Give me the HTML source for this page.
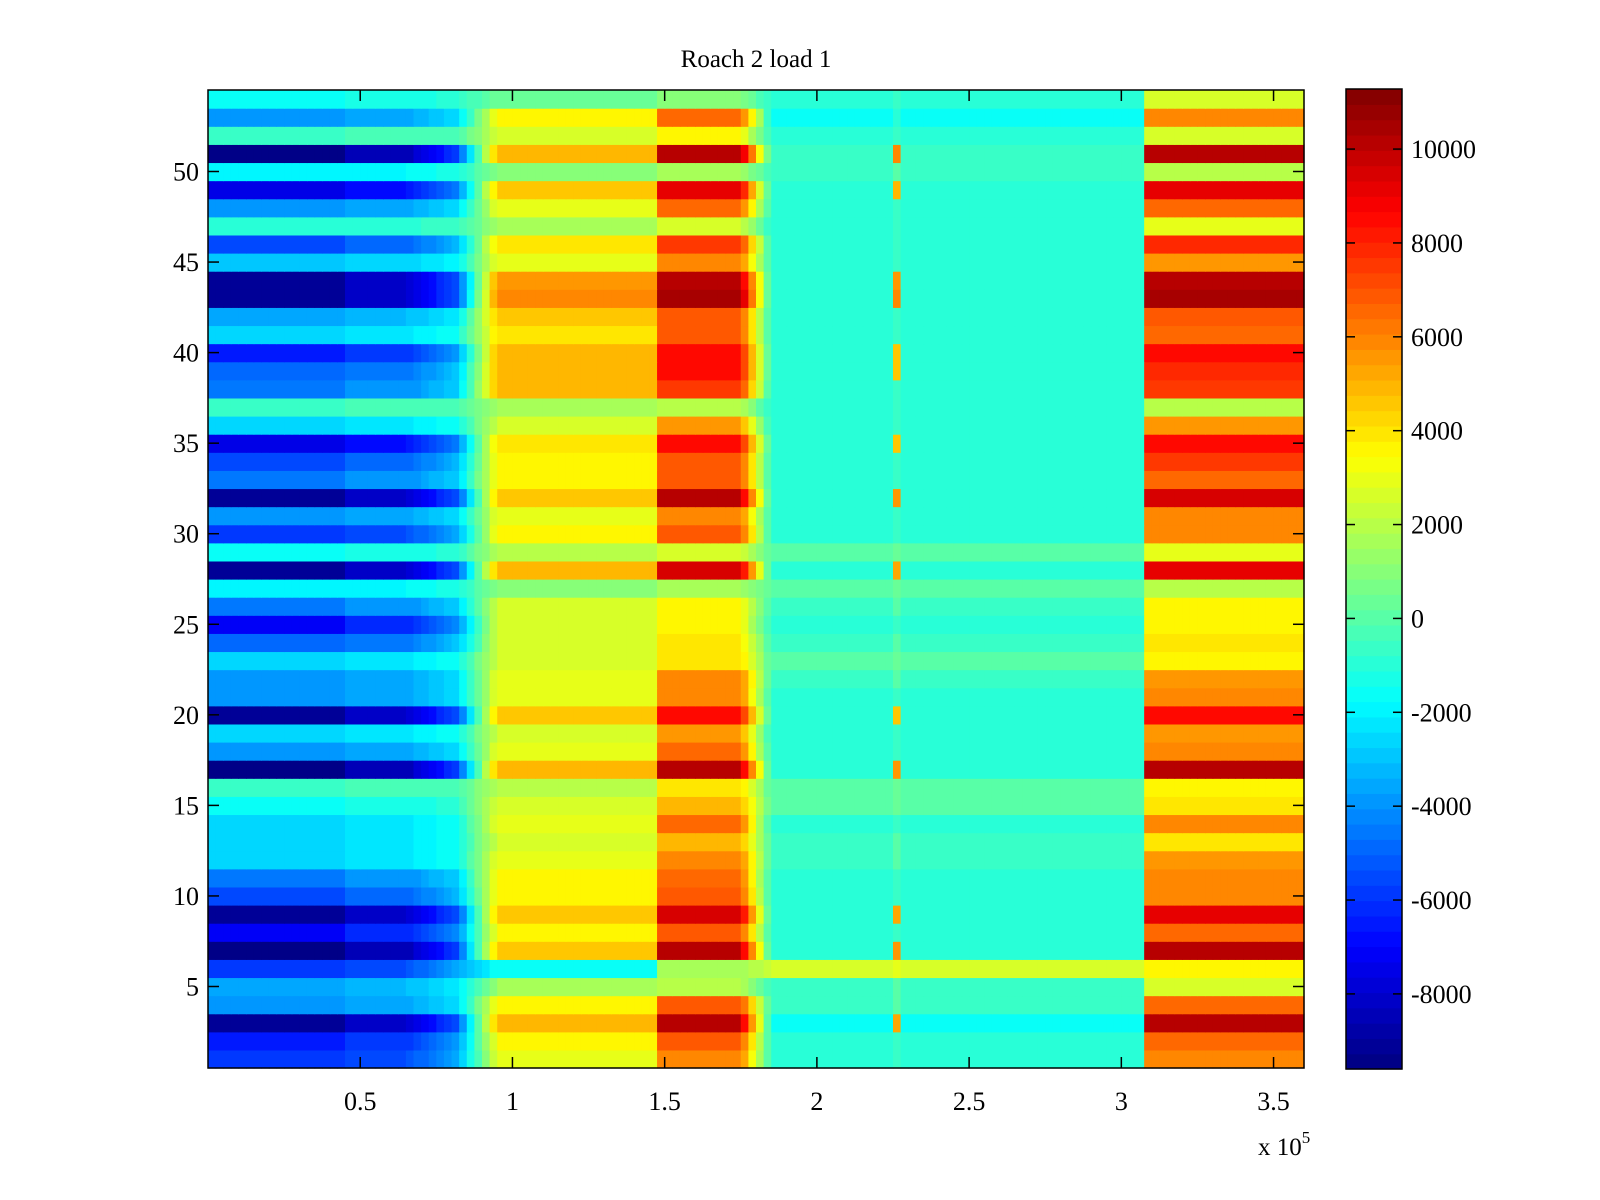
<!DOCTYPE html>
<html><head><meta charset="utf-8"><style>
body{margin:0;background:#fff}
svg{display:block}
text{font-family:"Liberation Serif",serif;fill:#000}
</style></head><body>
<svg id="fig" width="1600" height="1200" xmlns="http://www.w3.org/2000/svg">
<rect width="1600" height="1200" fill="#fff"/>
<text x="756" y="67" font-size="25" text-anchor="middle">Roach 2 load 1</text>
<g id="heat"></g>
<g id="axes"></g>
<g id="cbar"></g>
<text x="1258" y="1155" font-size="25">x 10<tspan dy="-12" font-size="17">5</tspan></text>
</svg>
<script>
// per-row values (rows 1..54), by x-segment
const leftVals=[-6000,-6500,-9000,-4000,-3500,-6000,-9500,-7000,-9000,-5500,-4500,-2500,-2500,-2500,-1500,-500,-9500,-4000,-2500,-9000,-4000,-4000,-2500,-5000,-7000,-4500,-2000,-9000,-1500,-6000,-4000,-9000,-4500,-5500,-7500,-2500,-500,-4500,-5000,-6500,-2500,-3500,-9000,-9000,-3000,-5500,-1000,-4000,-7500,-2000,-9500,-500,-4000,-1500];
const midVals=[3000,3500,5000,3500,1500,-1500,4500,3500,4500,3500,3500,3000,2500,3000,2500,2000,5000,3000,2500,4500,3000,3000,2500,2500,2500,2500,1000,5000,2000,3500,3000,4500,3500,3500,4000,2500,1500,5000,5000,5000,4000,4500,6000,5500,3000,4000,1500,3000,4500,1000,5000,2500,3500,500];
const peakVals=[6000,7000,10000,7000,2000,1500,10000,7000,9500,7000,6500,6000,5000,6500,5000,4000,10000,6500,5500,8500,6000,6000,4000,4000,3500,3500,1500,9500,2500,7000,6000,10000,7000,7000,8500,5500,2000,7500,8500,8500,7000,7000,10500,10000,6000,7500,2500,6500,9000,1500,10000,3500,6500,1000];
const centerVals=[-1000,-1000,-1500,-500,-500,2500,-1000,-1000,-1000,-1000,-1000,-500,-500,-1000,0,0,-1000,-1000,-1000,-1000,-1000,-500,0,-500,-1000,-500,0,-1000,0,-1000,-1000,-1000,-1000,-1000,-1000,-1000,-1000,-1000,-1000,-1000,-1000,-1000,-1000,-1000,-1000,-1000,-1000,-1000,-1000,-500,-500,-1000,-1500,-1000];
const rightVals=[6000,6500,10000,6500,2500,3500,10000,6500,9000,6000,6000,5500,4000,6000,4000,3500,10000,6000,5500,8500,6000,5500,3500,4000,3500,3500,2000,9000,3000,6000,6000,9500,6500,7500,8500,5500,2000,7500,8000,8500,6500,7000,10500,10000,5500,8000,3000,6500,9000,2000,10000,2500,6000,2500];
const xTicks=[0.5,1,1.5,2,2.5,3,3.5];
const xTickLabels=["0.5","1","1.5","2","2.5","3","3.5"];
const yTicks=[5,10,15,20,25,30,35,40,45,50];
const cTicks=[-8000,-6000,-4000,-2000,0,2000,4000,6000,8000,10000];
const xMin=0,xMax=3.6,nRows=54,cMin=-9600,cMax=11280;
const PL=208,PR=1304,PT=90,PB=1068;
const sx=x=>PL+(x-xMin)/(xMax-xMin)*(PR-PL);
const sy=v=>PT+(nRows+0.5-v)/nRows*(PB-PT);
const NS="http://www.w3.org/2000/svg";
function jet(t){t=Math.max(0,Math.min(1,t));const lvl=Math.min(63,Math.floor(t*64));t=(lvl+0.5)/64;
 const f=c=>Math.round(255*Math.max(0,Math.min(1,1.5-Math.abs(4*t-c))));
 return `rgb(${f(3)},${f(2)},${f(1)})`;}
const cnorm=v=>(v-cMin)/(cMax-cMin);
function profile(i,x){const L=leftVals[i],M=midVals[i],P=peakVals[i],C=centerVals[i],R=rightVals[i];
 if(x<0.45)return L; if(x<0.65)return L*0.9;
 if(x<0.82)return L*0.9+(L*0.6-L*0.9)*(x-0.65)/0.17;
 if(x<0.95)return L*0.6+(M-L*0.6)*(x-0.82)/0.13;
 if(x<1.48)return M; if(x<1.75)return P;
 if(x<1.85)return P+(C-P)*(x-1.75)/0.1;
 if(x>=2.25&&x<2.28)return P>8000?C+(P-C)*0.6:C+500;
 if(x<3.08)return C; return R;}
const heat=document.getElementById('heat');
const dx=0.025;
for(let i=0;i<nRows;i++){
 const y0=sy(i+1.5),y1=sy(i+0.5);
 for(let x=xMin;x<xMax-1e-9;x+=dx){
  const r=document.createElementNS(NS,'rect');
  const xa=sx(x),xb=sx(Math.min(xMax,x+dx));
  r.setAttribute('x',xa);r.setAttribute('y',y0);
  r.setAttribute('width',xb-xa+0.6);r.setAttribute('height',y1-y0+0.6);
  r.setAttribute('fill',jet(cnorm(profile(i,x+dx/2))));
  
  
  heat.appendChild(r);
 }
}
const ax=document.getElementById('axes');
function line(g,x1,y1,x2,y2,name){const l=document.createElementNS(NS,'line');
 l.setAttribute('x1',x1);l.setAttribute('y1',y1);l.setAttribute('x2',x2);l.setAttribute('y2',y2);
 l.setAttribute('stroke','#000');l.setAttribute('stroke-width','1.5');
 
 
 g.appendChild(l);}
function txt(g,x,y,s,anchor,name){const t=document.createElementNS(NS,'text');
 t.setAttribute('x',x);t.setAttribute('y',y);t.setAttribute('font-size','26');t.setAttribute('text-anchor',anchor);t.textContent=s;
 
 
 g.appendChild(t);}
const fr=document.createElementNS(NS,'rect');
fr.setAttribute('x',PL);fr.setAttribute('y',PT);fr.setAttribute('width',PR-PL);fr.setAttribute('height',PB-PT);
fr.setAttribute('fill','none');fr.setAttribute('stroke','#000');fr.setAttribute('stroke-width','1.5');


ax.appendChild(fr);
xTicks.forEach((v,k)=>{const x=sx(v);line(ax,x,PB,x,PB-11,'x-tick');line(ax,x,PT,x,PT+11,'x-tick');
 txt(ax,x,1110,xTickLabels[k],'middle','x-tick-label');});
yTicks.forEach(v=>{const y=sy(v);line(ax,PL,y,PL+11,y,'y-tick');line(ax,PR,y,PR-11,y,'y-tick');
 txt(ax,199,y+9,String(v),'end','y-tick-label');});
// colorbar
const cb=document.getElementById('cbar');const CL=1346,CR=1402,CT=89,CB=1069;
for(let k=0;k<64;k++){const r=document.createElementNS(NS,'rect');
 const ya=CB-(k+1)/64*(CB-CT),yb=CB-k/64*(CB-CT);
 r.setAttribute('x',CL);r.setAttribute('y',ya);r.setAttribute('width',CR-CL);r.setAttribute('height',yb-ya+0.6);
 r.setAttribute('fill',jet((k+0.5)/64));
 
 
 cb.appendChild(r);}
const cf=document.createElementNS(NS,'rect');
cf.setAttribute('x',CL);cf.setAttribute('y',CT);cf.setAttribute('width',CR-CL);cf.setAttribute('height',CB-CT);
cf.setAttribute('fill','none');cf.setAttribute('stroke','#000');cf.setAttribute('stroke-width','1.5');


cb.appendChild(cf);
cTicks.forEach(v=>{const y=CB-cnorm(v)*(CB-CT);line(cb,CL,y,CL+9,y,'colorbar-tick');line(cb,CR,y,CR-9,y,'colorbar-tick');
 txt(cb,1411,y+9,String(v),'start','colorbar-tick-label');});
</script>
</body></html>
